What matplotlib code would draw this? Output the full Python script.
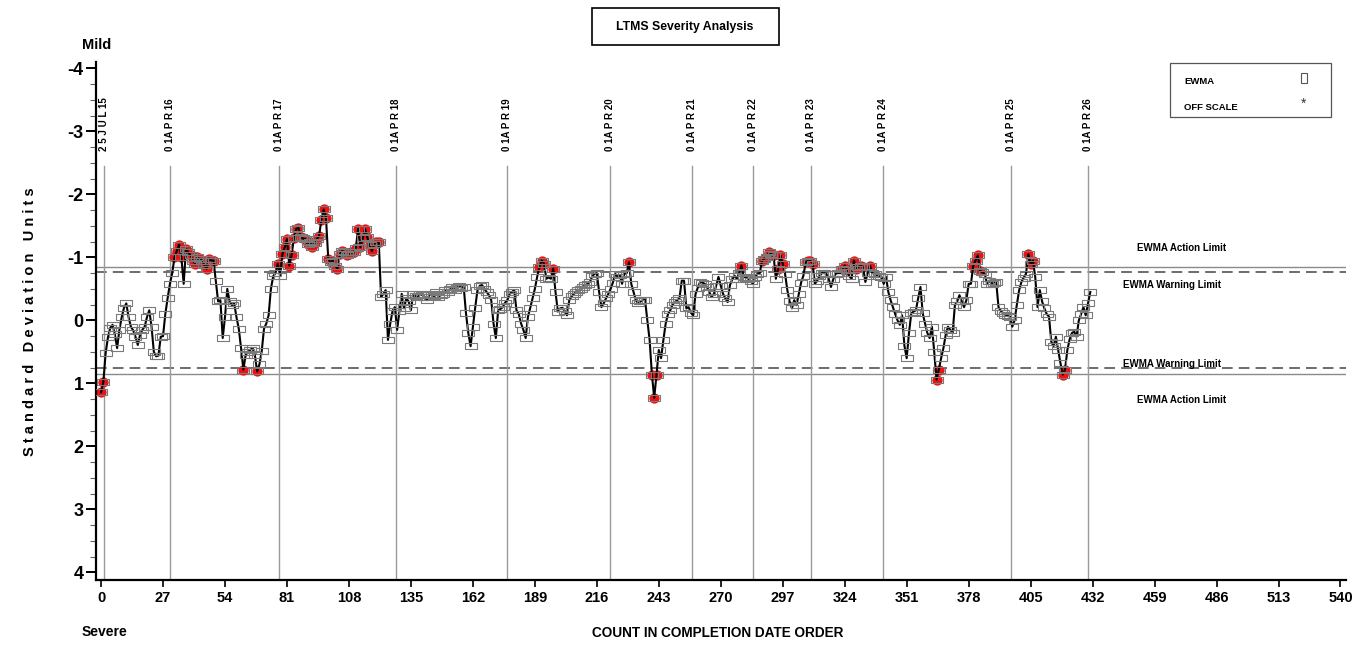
import matplotlib
matplotlib.use("Agg")
import matplotlib.pyplot as plt
from matplotlib.patches import Rectangle
from matplotlib.ticker import MultipleLocator

plt.rcParams['font.family'] = ['Liberation Sans', 'DejaVu Sans']

# ---------------- data ----------------
ewma = [
    1.14, 0.98, 0.52, 0.27, 0.12, 0.07, 0.22, 0.44, 0.15, -0.05,
    -0.20, -0.27, -0.05, 0.10, 0.16, 0.26, 0.39, 0.23, 0.15, 0.10,
    -0.05, -0.16, 0.10, 0.50, 0.57, 0.56, 0.26, 0.25, -0.10, -0.35,
    -0.58, -0.75, -1.00, -1.10, -1.20, -1.00, -0.58, -1.13, -1.08, -1.03,
    -0.95, -0.90, -1.00, -0.97, -0.95, -0.88, -0.82, -0.98, -0.95, -0.95,
    -0.63, -0.30, -0.32, 0.28, -0.05, -0.50, -0.30, -0.24, -0.27, -0.05,
    0.13, 0.44, 0.78, 0.55, 0.50, 0.47, 0.44, 0.55, 0.81, 0.70,
    0.49, 0.13, 0.05, -0.08, -0.50, -0.70, -0.75, -0.90, -0.71, -1.05,
    -1.16, -1.29, -0.87, -1.03, -1.30, -1.45, -1.47, -1.32, -1.30, -1.29,
    -1.21, -1.25, -1.16, -1.22, -1.29, -1.34, -1.60, -1.76, -1.63, -0.97,
    -0.92, -0.95, -0.87, -0.82, -1.05, -1.10, -1.08, -1.03, -1.05, -1.08,
    -1.08, -1.15, -1.45, -1.16, -1.30, -1.45, -1.32, -1.20, -1.10, -1.21,
    -1.24, -1.24, -0.37, -0.42, -0.48, 0.31, 0.05, -0.15, -0.21, 0.15,
    -0.15, -0.42, -0.19, -0.35, -0.30, -0.16, -0.42, -0.38, -0.37, -0.42,
    -0.40, -0.37, -0.32, -0.40, -0.42, -0.38, -0.45, -0.37, -0.40, -0.42,
    -0.48, -0.45, -0.50, -0.53, -0.48, -0.52, -0.54, -0.52, -0.53, -0.11,
    0.20, 0.41, 0.10, -0.20, -0.48, -0.55, -0.56, -0.50, -0.45, -0.40,
    -0.32, 0.05, 0.28, -0.16, -0.18, -0.21, -0.28, -0.32, -0.42, -0.45,
    -0.48, -0.16, -0.10, 0.05, 0.15, 0.28, -0.06, -0.20, -0.35, -0.50,
    -0.69, -0.85, -0.95, -0.90, -0.66, -0.68, -0.66, -0.82, -0.45, -0.14,
    -0.19, -0.20, -0.15, -0.08, -0.32, -0.38, -0.42, -0.45, -0.48, -0.50,
    -0.53, -0.56, -0.58, -0.61, -0.70, -0.74, -0.75, -0.45, -0.21, -0.27,
    -0.35, -0.42, -0.50, -0.60, -0.74, -0.69, -0.72, -0.58, -0.74, -0.75,
    -0.92, -0.58, -0.45, -0.32, -0.27, -0.30, -0.32, -0.33, 0.00, 0.31,
    0.86, 1.23, 0.86, 0.47, 0.60, 0.31, 0.05, -0.10, -0.16, -0.25,
    -0.29, -0.32, -0.35, -0.63, -0.63, -0.19, -0.21, -0.12, -0.08, -0.42,
    -0.52, -0.61, -0.60, -0.58, -0.53, -0.45, -0.37, -0.42, -0.55, -0.69,
    -0.55, -0.42, -0.35, -0.29, -0.56, -0.65, -0.71, -0.66, -0.75, -0.87,
    -0.69, -0.68, -0.66, -0.62, -0.58, -0.69, -0.74, -0.75, -0.95, -0.98,
    -1.00, -1.08, -1.05, -1.03, -0.66, -0.82, -1.03, -0.90, -0.74, -0.48,
    -0.30, -0.19, -0.32, -0.24, -0.42, -0.60, -0.71, -0.92, -0.95, -0.95,
    -0.90, -0.58, -0.63, -0.70, -0.75, -0.75, -0.74, -0.66, -0.53, -0.65,
    -0.74, -0.75, -0.75, -0.82, -0.87, -0.80, -0.70, -0.66, -0.95, -0.82,
    -0.85, -0.87, -0.84, -0.61, -0.75, -0.87, -0.75, -0.74, -0.71, -0.70,
    -0.69, -0.58, -0.69, -0.45, -0.32, -0.21, -0.10, 0.00, 0.07, -0.08,
    0.40, 0.60, 0.20, -0.11, -0.14, -0.16, -0.35, -0.53, -0.11, 0.05,
    0.20, 0.28, 0.10, 0.50, 0.94, 0.78, 0.60, 0.44, 0.23, 0.10,
    0.15, 0.20, -0.24, -0.30, -0.40, -0.30, -0.21, -0.32, -0.58, -0.58,
    -0.87, -0.95, -1.03, -0.79, -0.76, -0.74, -0.58, -0.63, -0.58, -0.60,
    -0.61, -0.21, -0.15, -0.11, -0.08, -0.07, -0.06, 0.10, 0.00, -0.25,
    -0.48, -0.61, -0.68, -0.74, -1.05, -0.90, -0.95, -0.69, -0.21, -0.48,
    -0.30, -0.19, -0.10, -0.06, 0.34, 0.41, 0.26, 0.47, 0.68, 0.86,
    0.78, 0.47, 0.30, 0.20, 0.18, 0.26, 0.00, -0.10, -0.21, -0.08,
    -0.27, -0.45,
]
count = list(range(len(ewma)))

action_limit = 0.85
warning_limit = 0.76

date_labels = ["2 5 J U L 15", "0 1A P R 16", "0 1A P R 17", "0 1A P R 18",
               "0 1A P R 19", "0 1A P R 20", "0 1A P R 21", "0 1A P R 22",
               "0 1A P R 23", "0 1A P R 24", "0 1A P R 25", "0 1A P R 26"]
date_counts = [1.3, 29.9, 77.7, 128.6, 176.8, 221.7, 257.3, 284.2,
               309.2, 340.7, 396.4, 430.1]

x_ticks = [0, 27, 54, 81, 108, 135, 162, 189, 216, 243, 270, 297, 324,
           351, 378, 405, 432, 459, 486, 513, 540]
y_ticks = [-4, -3, -2, -1, 0, 1, 2, 3, 4]

# ---------------- figure ----------------
W, H = 1355, 645
fig = plt.figure(figsize=(W / 100, H / 100), dpi=100)
ax = fig.add_axes([96 / W, 1 - 580 / H, (1346 - 96) / W, (580 - 62) / H])

ax.set_xlim(-2.2, 542.4)
ax.set_ylim(4.12, -4.10)

for s in ['top', 'right']:
    ax.spines[s].set_visible(False)
ax.spines['left'].set_linewidth(1.6)
ax.spines['bottom'].set_linewidth(1.6)

ax.set_xticks(x_ticks)
ax.set_xticklabels([str(t) for t in x_ticks], fontsize=10.5, fontweight='bold')
ax.set_yticks(y_ticks)
ax.set_yticklabels([str(t) for t in y_ticks], fontsize=13, fontweight='bold')
ax.yaxis.set_minor_locator(MultipleLocator(0.25))
ax.tick_params(axis='y', which='major', length=7, width=1.4, pad=2)
ax.tick_params(axis='y', which='minor', length=4, width=0.8, color='#666666')
ax.tick_params(axis='x', which='major', length=5, width=1.2, pad=3)

# limit lines
for lim in (-action_limit, action_limit):
    ax.axhline(lim, color='#8a8a8a', lw=1.0, zorder=1)
for lim in (-warning_limit, warning_limit):
    ax.axhline(lim, color='#444444', lw=1.1, ls=(0, (7, 4)), zorder=1)

# date reference lines and labels
for lab, c in zip(date_labels, date_counts):
    ax.plot([c, c], [-2.45, 4.12], color='#9a9a9a', lw=1.0, zorder=1)
    ax.text(c, -3.11, lab, rotation=90, ha='center', va='center',
            fontsize=7, fontweight='bold')

# off-limit highlights
red_x = [c for c, v in zip(count, ewma) if abs(v) > warning_limit]
red_y = [v for v in ewma if abs(v) > warning_limit]
ax.scatter(red_x, red_y, s=55, color='#ee1111', zorder=2, linewidths=0)

# line + rectangle markers
rect_marker = [(-1, -0.55), (1, -0.55), (1, 0.55), (-1, 0.55), (-1, -0.55)]
ax.plot(count, ewma, color='black', lw=1.5, zorder=3)
ax.plot(count, ewma, ls='none', marker=rect_marker, markersize=9,
        mfc='none', mec='#7a7a7a', mew=0.8, zorder=4)

# limit labels
fs_lim = 7
fig.text(1182 / W, 1 - 248 / H, "EWMA Action Limit", ha='center', va='center',
         fontsize=fs_lim, fontweight='bold')
fig.text(1172 / W, 1 - 285 / H, "EWMA Warning Limit", ha='center', va='center',
         fontsize=fs_lim, fontweight='bold')
fig.text(1172 / W, 1 - 364 / H, "EWMA Warning Limit", ha='center', va='center',
         fontsize=fs_lim, fontweight='bold')
fig.text(1182 / W, 1 - 400 / H, "EWMA Action Limit", ha='center', va='center',
         fontsize=fs_lim, fontweight='bold')

# axis titles
fig.text(30 / W, 1 - 322 / H, "S t a n d a r d   D e v i a t i o n   U n i t s",
         rotation=90, ha='center', va='center', fontsize=10.5, fontweight='bold')
fig.text(82 / W, 1 - 45 / H, "Mild", ha='left', va='center', fontsize=10.5, fontweight='bold')
fig.text(82 / W, 1 - 632 / H, "Severe", ha='left', va='center', fontsize=10, fontweight='bold')
fig.text(718 / W, 1 - 633 / H, "COUNT IN COMPLETION DATE ORDER", ha='center', va='center',
         fontsize=9.8, fontweight='bold')

# title box
fig.patches.append(Rectangle((592 / W, 1 - 45 / H), (779 - 592) / W, (45 - 8) / H,
                             transform=fig.transFigure, fill=False, ec='black', lw=1.2))
fig.text(685 / W, 1 - 27 / H, "LTMS Severity Analysis", ha='center', va='center',
         fontsize=8.8, fontweight='bold')

# legend box
fig.patches.append(Rectangle((1170 / W, 1 - 117 / H), (1331 - 1170) / W, (117 - 63) / H,
                             transform=fig.transFigure, fill=False, ec='#555555', lw=0.9))
fig.text(1184 / W, 1 - 81 / H, "EWMA", ha='left', va='center', fontsize=6.8, fontweight='bold')
fig.text(1184 / W, 1 - 107 / H, "OFF SCALE", ha='left', va='center', fontsize=6.8, fontweight='bold')
fig.patches.append(Rectangle((1301 / W, 1 - 83 / H), 6 / W, 10 / H,
                             transform=fig.transFigure, fill=False, ec='#555555', lw=0.8))
fig.text(1304 / W, 1 - 104 / H, "*", ha='center', va='center', fontsize=10, color='#333333')

fig.savefig("out.png", dpi=100)
